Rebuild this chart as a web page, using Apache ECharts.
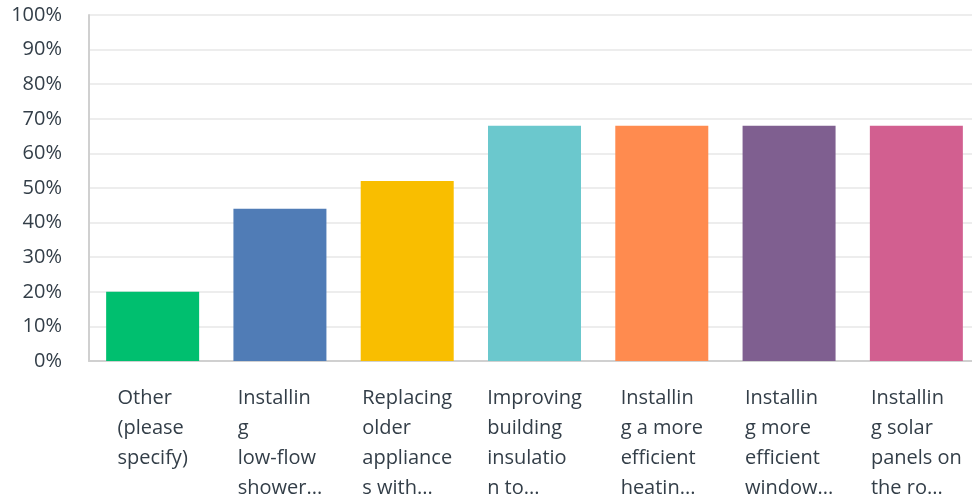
<!DOCTYPE html>
<html>
<head>
<meta charset="utf-8">
<script src="https://cdn.jsdelivr.net/npm/echarts@6/dist/echarts.min.js"></script>
<style>
  html, body { margin: 0; padding: 0; background: #fff; }
  #chart { width: 972px; height: 496px; }
</style>
</head>
<body>
<div id="chart"></div>
<script>
// categories (already wrapped the way the source chart shows them)
const categories = [
  ['Other', '(please', 'specify)'],
  ['Installin', 'g', 'low-flow', 'shower...'],
  ['Replacing', 'older', 'appliance', 's with...'],
  ['Improving', 'building', 'insulatio', 'n to...'],
  ['Installin', 'g a more', 'efficient', 'heatin...'],
  ['Installin', 'g more', 'efficient', 'window...'],
  ['Installin', 'g solar', 'panels on', 'the ro...']
]
const values = [20, 44, 52, 68, 68, 68, 68]
const barColors = ['#00bf6f', '#507cb6', '#f9be00', '#6bc8cd', '#ff8b4f', '#7f5f90', '#d25f90']

const chart = echarts.init(document.getElementById('chart'))
const option = {
  animation: false,
  grid: { left: 89, top: 15, bottom: 135, right: -8, outerBoundsMode: 'none', containLabel: false },
  xAxis: {
    type: 'category',
    data: categories.map(c => c.join('\n')),
    axisLine: { lineStyle: { color: '#d0d0d0', width: 2 } },
    axisTick: { show: false },
    axisLabel: {
      interval: 0,
      margin: 22,
      formatter: v => v.split('\n').map(l => '{a|' + l + '}').join('\n'),
      rich: {
        a: { align: 'left', fontSize: 20, lineHeight: 30, color: '#333e48', fontFamily: 'Open Sans' }
      }
    }
  },
  yAxis: {
    type: 'value',
    min: 0,
    max: 100,
    interval: 10,
    axisLine: { show: true, lineStyle: { color: '#d0d0d0', width: 2 } },
    splitLine: { lineStyle: { color: '#ededed', width: 2 } },
    axisLabel: {
      formatter: '{value}%',
      fontSize: 20,
      margin: 27,
      color: '#333e48',
      fontFamily: 'Open Sans'
    }
  },
  series: [{
    type: 'bar',
    barWidth: 93,
    data: values.map((v, i) => ({ value: v, itemStyle: { color: barColors[i] } }))
  }]
}
chart.setOption(option)
</script>
</body>
</html>
